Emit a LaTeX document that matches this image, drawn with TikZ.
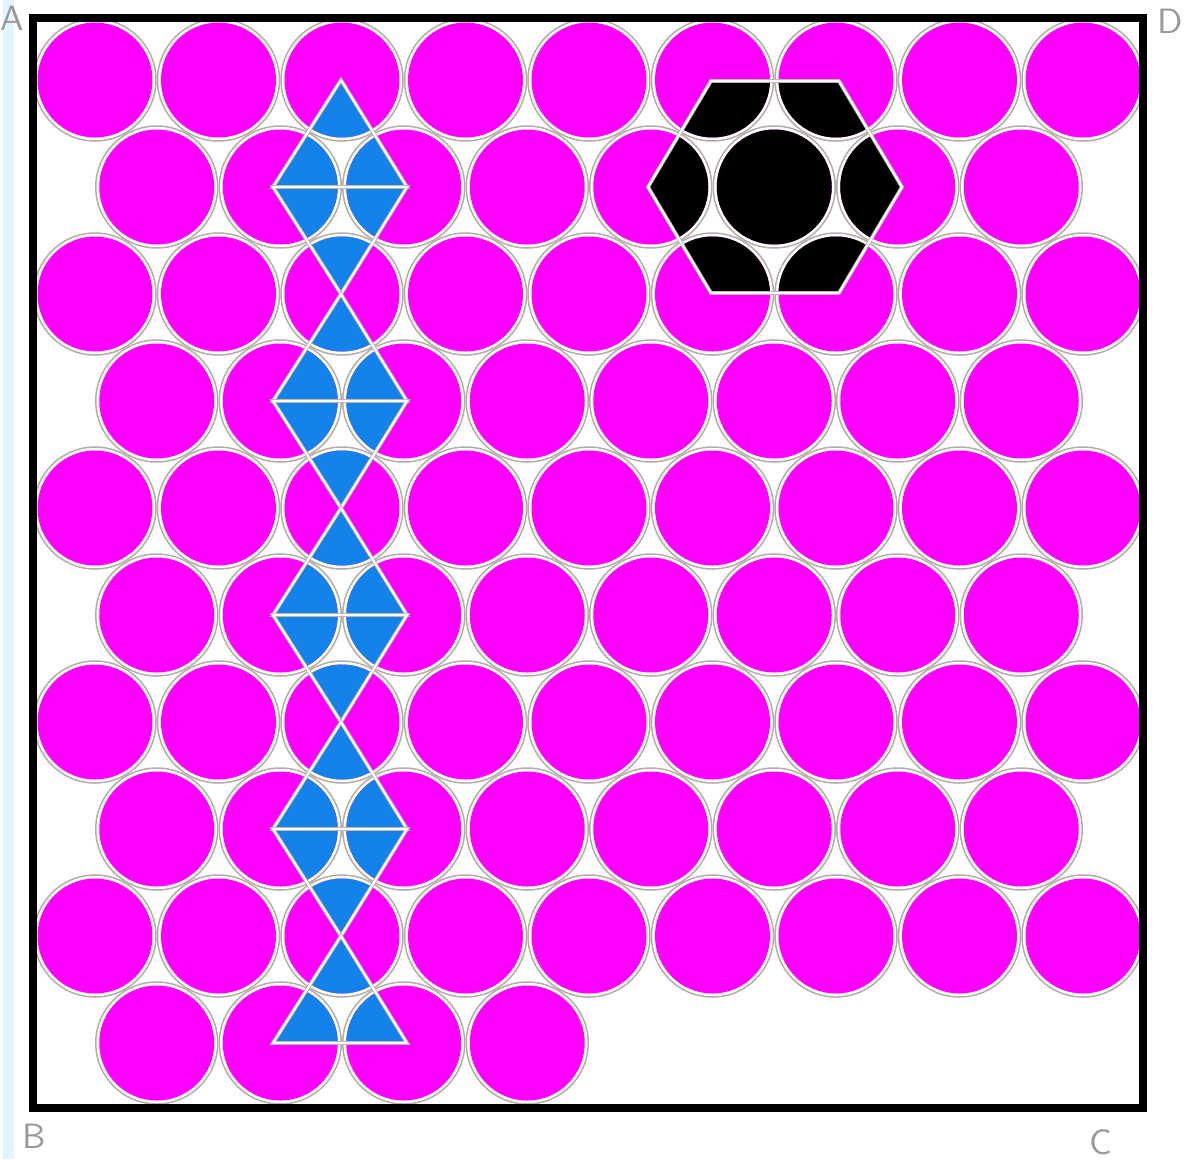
\documentclass[tikz,border=0pt]{standalone}
\usetikzlibrary{positioning}
\definecolor{pinkfill}{RGB}{255,0,255}
\definecolor{bluefill}{RGB}{20,130,235}
\definecolor{ringgray}{RGB}{180,172,168}

\begin{document}
\begin{tikzpicture}[x=0.1mm, y=-0.1mm,
disc/.style={fill=pinkfill},
ring/.style={draw=ringgray, line width=0.15mm},
cutline/.style={draw=ringgray, double=white, line width=0.08mm, double distance=0.22mm},
frame/.style={draw=black, line width=0.8mm},
corner/.style={text=gray!80, font=\sffamily\fontsize{10}{10}\selectfont, inner sep=0pt},
]
\useasboundingbox (0,0) rectangle (1185,1159);
\fill[cyan!12] (3,0) rectangle (14,1159);

%Circles
\foreach \r in {0,2,4,6,8}
  \foreach \j in {0,...,8}{
    \fill[disc] (95+123.5*\j, 80+107*\r) circle (57.5);
    \draw[ring] (95+123.5*\j, 80+107*\r) circle (61);
  }
\foreach \r/\n in {1/7,3/7,5/7,7/7,9/3}
  \foreach \j in {0,...,\n}{
    \fill[disc] (156.75+123.5*\j, 80+107*\r) circle (57.5);
    \draw[ring] (156.75+123.5*\j, 80+107*\r) circle (61);
  }

%Triangles
\foreach \e/\o in {0/1,2/1,2/3,4/3,4/5,6/5,6/7,8/7,8/9}{
  \begin{scope}
    \clip (341,80+107*\e) -- (273,80+107*\o) -- (407,80+107*\o) -- cycle;
    \fill[bluefill] (342,80+107*\e) circle (57.5)
      (280.25,80+107*\o) circle (57.5) (403.75,80+107*\o) circle (57.5);
  \end{scope}
  \draw[cutline] (341,80+107*\e) -- (273,80+107*\o) -- (407,80+107*\o) -- cycle;
}

%Hexagon
\begin{scope}
  \clip (648,187) -- (711,81) -- (839,81) -- (902,187) -- (839,293) -- (711,293) -- cycle;
  \fill[black] (774.25,187) circle (57.5) (650.75,187) circle (57.5) (897.75,187) circle (57.5)
    (712.5,80) circle (57.5) (836,80) circle (57.5) (712.5,294) circle (57.5) (836,294) circle (57.5);
\end{scope}
\draw[cutline] (648,187) -- (711,81) -- (839,81) -- (902,187) -- (839,293) -- (711,293) -- cycle;

%Frame
\draw[frame] (33,18) rectangle (1143,1108);

%Labels
\node[corner] (A) at (12,18) {A};
\node[corner] (D) at (1170,21) {D};
\node[corner] (B) at (34,1136) {B};
\node[corner] (C) at (1101,1142) {C};
\end{tikzpicture}
\end{document}
